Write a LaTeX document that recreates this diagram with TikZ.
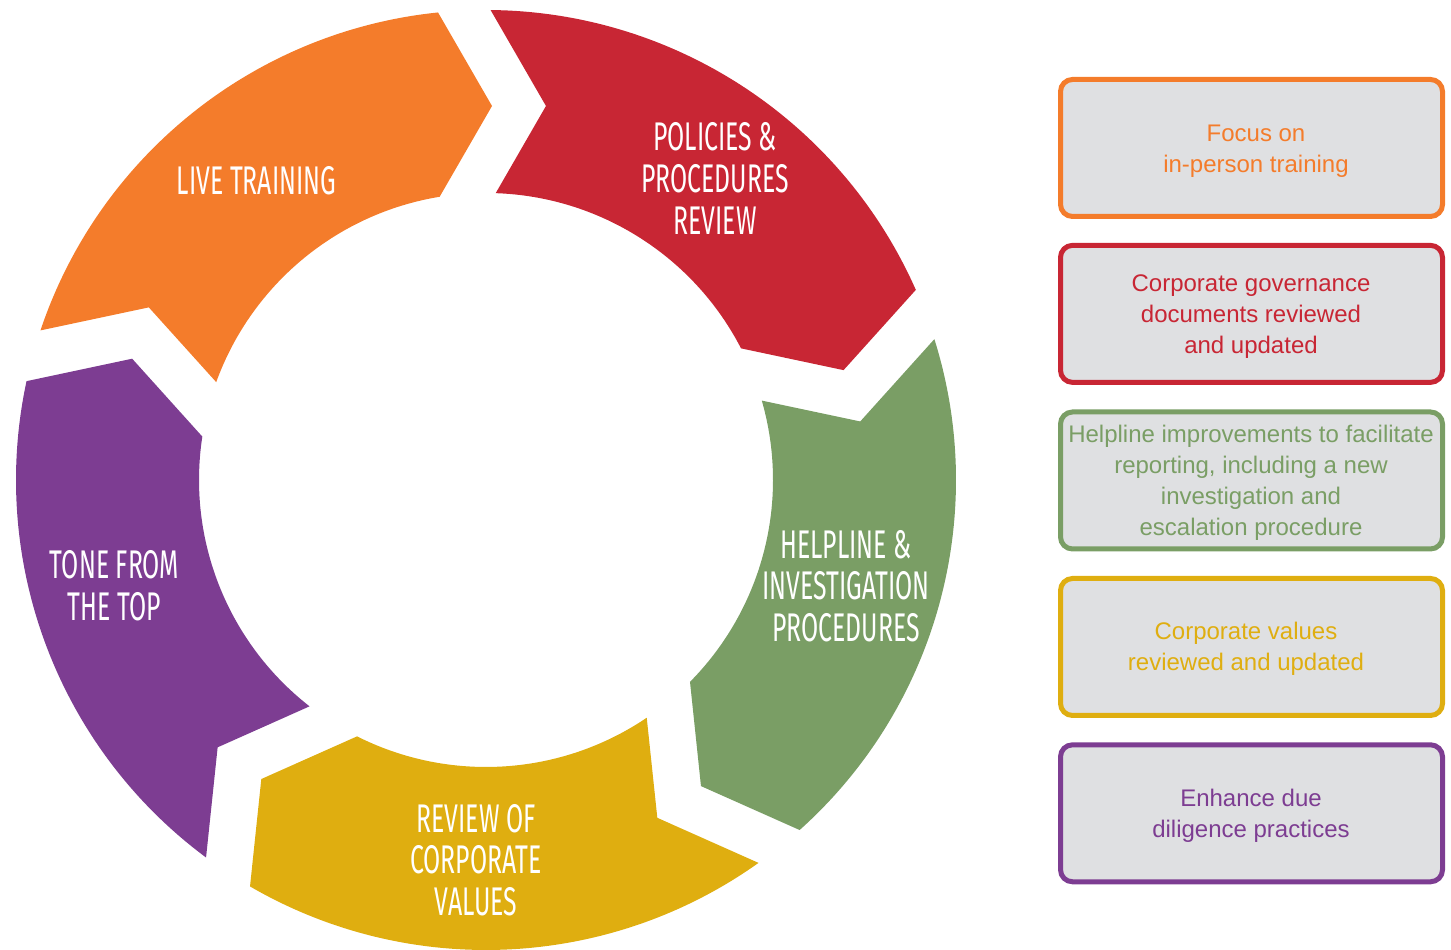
\documentclass[tikz,border=0pt]{standalone}
\usepackage{fontspec}
\setmainfont{Liberation Sans}
\newfontfamily\segfont{Fira Sans}[FakeStretch=0.62]
\definecolor{corange}{RGB}{244,124,43}
\definecolor{cred}{RGB}{200,38,52}
\definecolor{cgreen}{RGB}{122,158,101}
\definecolor{cyellow}{RGB}{223,174,16}
\definecolor{cpurple}{RGB}{125,61,146}
\definecolor{boxgrey}{RGB}{223,224,226}
\newcommand\ringseg[2]{%
  \fill[#1] ({89.44+(#2)}:470pt)
    arc[start angle={89.44+(#2)}, end angle={23.86+(#2)}, radius=470pt]
    -- ({17.08+(#2)}:374.05pt)
    -- ({27.30+(#2)}:287pt)
    arc[start angle={27.30+(#2)}, end angle={88.06+(#2)}, radius=287pt]
    -- ({80.89+(#2)}:378.8pt) -- cycle;}
\begin{document}
\begin{tikzpicture}[x=1pt,y=1pt,
  seglabel/.style={text=white, font=\segfont\fontsize{40}{41.7}\selectfont, align=center, inner sep=0pt},
  infobox/.style={draw=#1, line width=5pt, fill=boxgrey, rounded corners=12pt, minimum width=382pt, minimum height=137pt, inner sep=0pt},
  infotext/.style={text=#1, font=\fontsize{24}{31}\selectfont, align=center, inner sep=0pt}]
\useasboundingbox (0,0) rectangle (1451,950);
\begin{scope}[shift={(486,470)}]
  \ringseg{cred}{0}
  \ringseg{cgreen}{-72}
  \ringseg{cyellow}{-144}
  \ringseg{cpurple}{-216}
  \ringseg{corange}{-288}
\end{scope}
% segment labels (y = 950 - image y)
\node[seglabel] (lt) at (256.5,769) {LIVE TRAINING};
\node[seglabel] (pp) at (715,771.7) {POLICIES \&\\PROCEDURES\\REVIEW};
\node[seglabel] (hl) at (846,364) {HELPLINE \&\\INVESTIGATION\\PROCEDURES};
\node[seglabel] (rc) at (476,90) {REVIEW OF\\CORPORATE\\VALUES};
\node[seglabel] (tt) at (114.5,364) {TONE FROM\\THE TOP};
% boxes
\node[infobox=corange] (b1) at (1251.5,802) {};
\node[infobox=cred] (b2) at (1251.5,636.1) {};
\node[infobox=cgreen] (b3) at (1251.5,469.5) {};
\node[infobox=cyellow] (b4) at (1251.5,303) {};
\node[infobox=cpurple] (b5) at (1251.5,136.7) {};
\node[infotext=corange] (t1) at (1256,798.8) {Focus on\\in-person training};
\node[infotext=cred] (t2) at (1251,633.5) {Corporate governance\\documents reviewed\\and updated};
\node[infotext=cgreen] (t3) at (1251,467.1) {Helpline improvements to facilitate\\reporting, including a new\\investigation and\\escalation procedure};
\node[infotext=cyellow] (t4) at (1246,301.3) {Corporate values\\reviewed and updated};
\node[infotext=cpurple] (t5) at (1251,134.6) {Enhance due\\diligence practices};
\end{tikzpicture}
\end{document}
